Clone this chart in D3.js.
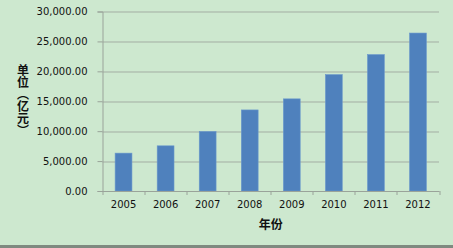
<!DOCTYPE html>
<html>
<head>
<meta charset="utf-8">
<script src="https://cdn.jsdelivr.net/npm/d3@7"></script>
<style>
  html, body { margin: 0; padding: 0; background: #cde8cf; }
  svg { display: block; }
</style>
</head>
<body>
<div id="chart"></div>
<script>
// Yearly values, unit: 亿元
const years = ["2005", "2006", "2007", "2008", "2009", "2010", "2011", "2012"];
const values = [6330, 7550, 9950, 13550, 15400, 19450, 22800, 26400];
const yTicks = [0, 5000, 10000, 15000, 20000, 25000, 30000];

const W = 453, H = 248;
const margin = {top: 11.5, right: 14, bottom: 57, left: 102.5};
const width = W - margin.left - margin.right;
const height = H - margin.top - margin.bottom;

const svg = d3.select("#chart").append("svg")
  .attr("width", W)
  .attr("height", H);

svg.append("rect")
  .attr("width", W).attr("height", H)
  .attr("fill", "#cde8cf");

// bottom frame edge
svg.append("rect")
  .attr("x", 0).attr("y", 245)
  .attr("width", W).attr("height", 3)
  .attr("fill", "#7f8a80");

const g = svg.append("g")
  .attr("transform", `translate(${margin.left},${margin.top})`);

const x = d3.scaleBand()
  .domain(years)
  .range([0, width])
  .paddingInner(0.6)
  .paddingOuter(0.3);

const y = d3.scaleLinear()
  .domain([0, 30000])
  .range([height, 0]);

const fmt = d3.format(",.2f");

// gridlines
g.append("g")
  .selectAll("line")
  .data(yTicks.filter(d => d > 0))
  .enter()
  .append("line")
  .attr("x1", 0).attr("x2", width)
  .attr("y1", d => Math.round(y(d)) + 0.5)
  .attr("y2", d => Math.round(y(d)) + 0.5)
  .attr("stroke", "#a3ada3")
  .attr("stroke-width", 1);

// y axis
const yAxis = g.append("g")
  .call(d3.axisLeft(y).tickValues(yTicks).tickFormat(fmt).tickSize(5).tickPadding(10));
yAxis.select(".domain").attr("stroke", "#9aa39a");
yAxis.selectAll(".tick line").attr("stroke", "#9aa39a");
yAxis.selectAll("text")
  .attr("fill", "#111")
  .style("font-family", "'DejaVu Sans', Verdana, sans-serif")
  .style("font-size", "10px");

// bars
g.selectAll(".bar")
  .data(values)
  .enter()
  .append("rect")
  .attr("class", "bar")
  .attr("x", (d, i) => x(years[i]))
  .attr("y", d => y(d))
  .attr("width", x.bandwidth())
  .attr("height", d => height - y(d))
  .attr("fill", "#4f81bd")
  .attr("stroke", "#6a98cc")
  .attr("stroke-width", 0.6);

// x axis with ticks at category boundaries
const xAxis = g.append("g")
  .attr("transform", `translate(0,${height})`)
  .call(d3.axisBottom(x).tickSize(0).tickPadding(10));
xAxis.select(".domain").attr("stroke", "#9aa39a");
xAxis.selectAll("text")
  .attr("fill", "#111")
  .style("font-family", "'DejaVu Sans', Verdana, sans-serif")
  .style("font-size", "10px");

const step = width / years.length;
g.append("g")
  .selectAll("line")
  .data(d3.range(years.length + 1))
  .enter()
  .append("line")
  .attr("x1", i => Math.round(i * step) + 0.5)
  .attr("x2", i => Math.round(i * step) + 0.5)
  .attr("y1", height)
  .attr("y2", height + 4)
  .attr("stroke", "#9aa39a");

// axis titles
svg.append("text")
  .attr("x", margin.left + width / 2)
  .attr("y", 229)
  .attr("text-anchor", "middle")
  .style("font-family", "'Noto Sans CJK SC', sans-serif")
  .style("font-size", "12px")
  .style("font-weight", "bold")
  .attr("fill", "#111")
  .text("年份");

svg.append("text")
  .attr("x", 23)
  .attr("y", 64)
  .style("writing-mode", "vertical-rl")
  .style("text-orientation", "upright")
  .style("font-family", "'Noto Sans CJK SC', sans-serif")
  .style("font-size", "12px")
  .style("font-weight", "bold")
  .attr("fill", "#111")
  .text("单位︵亿元︶");
</script>
</body>
</html>
